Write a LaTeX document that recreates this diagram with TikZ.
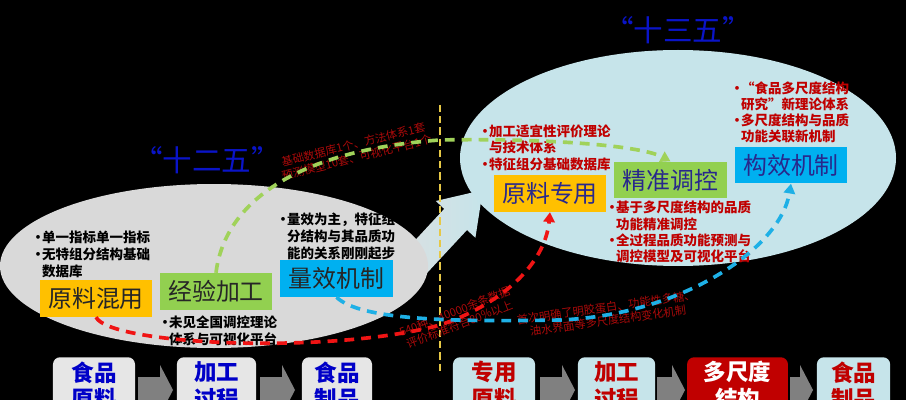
\documentclass[tikz,border=0pt]{standalone}
\usepackage{fontspec}
\setmainfont{Noto Sans CJK SC}
\usetikzlibrary{arrows.meta}
\definecolor{ellgray}{RGB}{217,217,217}
\definecolor{ellblue}{RGB}{198,228,234}
\definecolor{boxorange}{RGB}{255,192,0}
\definecolor{boxgreen}{RGB}{146,208,80}
\definecolor{boxblue}{RGB}{0,176,240}
\definecolor{boxnavy}{RGB}{40,40,140}
\definecolor{titleblue}{RGB}{10,20,200}
\definecolor{notered}{RGB}{192,0,0}
\definecolor{tinyred}{RGB}{170,10,10}
\definecolor{linegreen}{RGB}{160,210,90}
\definecolor{lineblue}{RGB}{30,176,230}
\definecolor{linered}{RGB}{240,20,20}
\definecolor{cellgray}{RGB}{230,230,230}
\definecolor{cellblue}{RGB}{0,0,200}
\definecolor{arrowgray}{RGB}{128,128,128}
\definecolor{vline}{RGB}{230,200,70}
\newcommand{\bul}{\makebox[0.8em][l]{•}}
\newcommand{\hang}{\hspace*{0.8em}}
\begin{document}
\begin{tikzpicture}[x=0.025cm,y=-0.025cm,
		hbox/.style={minimum width=2.8cm,minimum height=0.92cm,inner sep=0pt,font=\fontsize{17}{20}\selectfont},
		note/.style={anchor=north west,align=left,inner sep=0pt,font=\bfseries\fontsize{9.6}{12}\selectfont},
		flow/.style={line width=2.6pt,dash pattern=on 7pt off 5pt,-{Triangle[length=7pt,width=8pt]}},
		tiny/.style={align=center,inner sep=0pt,text=tinyred,font=\fontsize{8}{9.5}\selectfont},
		cell/.style={anchor=north,align=center,rounded corners=5pt,inner sep=3pt,font=\bfseries\fontsize{16}{19}\selectfont},
		title/.style={text=titleblue,font=\fontsize{21}{24}\selectfont}]
	\clip (0,0) rectangle (906,400);
	\fill[black] (0,0) rectangle (906,400);
	% big arrow, tail and tip go under the two ellipses
	\shade[left color=gray!25,right color=ellblue] (399.8,302.3) -- (467,230) -- (475.4,237.8) -- (482.8,190.1) -- (435.8,201) -- (444.2,208.9) -- (377,281.3) -- cycle;
	\fill[ellgray] (214,266) ellipse (214 and 82);
	\fill[ellblue] (678,158) ellipse (218 and 108);
	\coordinate (vtop) at (440,105);
	\coordinate (vbot) at (440,372);
	\draw[vline,line width=1pt,dash pattern=on 5pt off 3pt] (vtop) -- (vbot);
	\node[title](t12) at (207,160) {“十二五”};
	\node[title](t13) at (678,30) {“十三五”};
	% twelfth plan
	\node[hbox,fill=boxorange,text=black!85](mix) at (96,298.5) {原料混用};
	\node[hbox,fill=boxgreen,text=black!85](exp) at (216,291.5) {经验加工};
	\node[hbox,fill=boxblue,text=black!85](qe) at (336.5,278.5) {量效机制};
	\node[note](n1) at (31,231) {\bul 单一指标单一指标\\\bul 无特组分结构基础\\\hang 数据库};
	\node[note](n2) at (158,316) {\bul 未见全国调控理论\\\hang 体系与可视化平台};
	\node[note](n3) at (276,213) {\bul 量效为主，特征组\\\hang 分结构与其品质功\\\hang 能的关系刚刚起步};
	% thirteenth plan
	\node[hbox,fill=boxorange,text=boxnavy](dedi) at (550,193.5) {原料专用};
	\node[hbox,fill=boxgreen,text=boxnavy](prec) at (670.5,180) {精准调控};
	\node[hbox,fill=boxblue,text=boxnavy](struct) at (791,165) {构效机制};
	\node[note,text=notered,font=\bfseries\fontsize{9.6}{11.4}\selectfont](n4) at (478,125) {\bul 加工适宜性评价理论\\\hang 与技术体系\\\bul 特征组分基础数据库};
	\node[note,text=notered,font=\bfseries\fontsize{9.6}{11.4}\selectfont](n5) at (730,81) {\bul “食品多尺度结构\\\hang 研究”新理论体系\\\bul 多尺度结构与品质\\\hang 功能关联新机制};
	\node[note,text=notered,font=\bfseries\fontsize{9.6}{11.4}\selectfont](n6) at (605,201) {\bul 基于多尺度结构的品质\\\hang 功能精准调控\\\bul 全过程品质功能预测与\\\hang 调控模型及可视化平台};
	% results along the links
	\node[tiny,rotate=14](lab1) at (355,151) {基础数据库1个、方法体系1套\\预测模型10套、可视化平台1个};
	\node[tiny,rotate=21](lab2) at (457,318) {540种、40000余条数据\\评价标准符合80\%以上};
	\node[tiny,rotate=8](lab3) at (607,314) {首次明确了明胶蛋白、功能性多糖、\\油水界面等多尺度结构变化机制};
	\draw[flow,linegreen] (exp.north) .. controls (225,200) and (300,150) .. (440,140) .. controls (540,138) and (640,145) .. (prec.north);
	\draw[flow,linered] (mix.south) .. controls (110,345) and (330,355) .. (440,325) .. controls (500,305) and (545,265) .. (dedi.south);
	\draw[flow,lineblue] (qe.south) .. controls (360,320) and (450,322) .. (560,320) .. controls (680,315) and (780,250) .. (struct.south);
	% bottom chains
	\node[cell,fill=cellgray,text=cellblue,minimum width=2.05cm](s1) at (94,357) {食品\\原料};
	\node[cell,fill=cellgray,text=cellblue,minimum width=1.98cm](s2) at (216.5,357) {加工\\过程};
	\node[cell,fill=cellgray,text=cellblue,minimum width=1.75cm](s3) at (337,357) {食品\\制品};
	\node[cell,fill=ellblue,text=notered,minimum width=2.05cm](r1) at (494,357) {专用\\原料};
	\node[cell,fill=ellblue,text=notered,minimum width=1.93cm](r2) at (616.5,357) {加工\\过程};
	\node[cell,fill=notered,text=white,minimum width=2.52cm](r3) at (737.5,357) {多尺度\\结构};
	\node[cell,fill=ellblue,text=notered,minimum width=1.83cm](r4) at (853.5,357) {食品\\制品};
	\foreach \a/\b in {138/173, 260/295, 540/575, 657/685, 790/813}
		\fill[arrowgray] (\a,377) -- (\b-13,377) -- (\b-13,365) -- (\b,390) -- (\b-13,415) -- (\b-13,403) -- (\a,403) -- cycle;
\end{tikzpicture}
\end{document}
